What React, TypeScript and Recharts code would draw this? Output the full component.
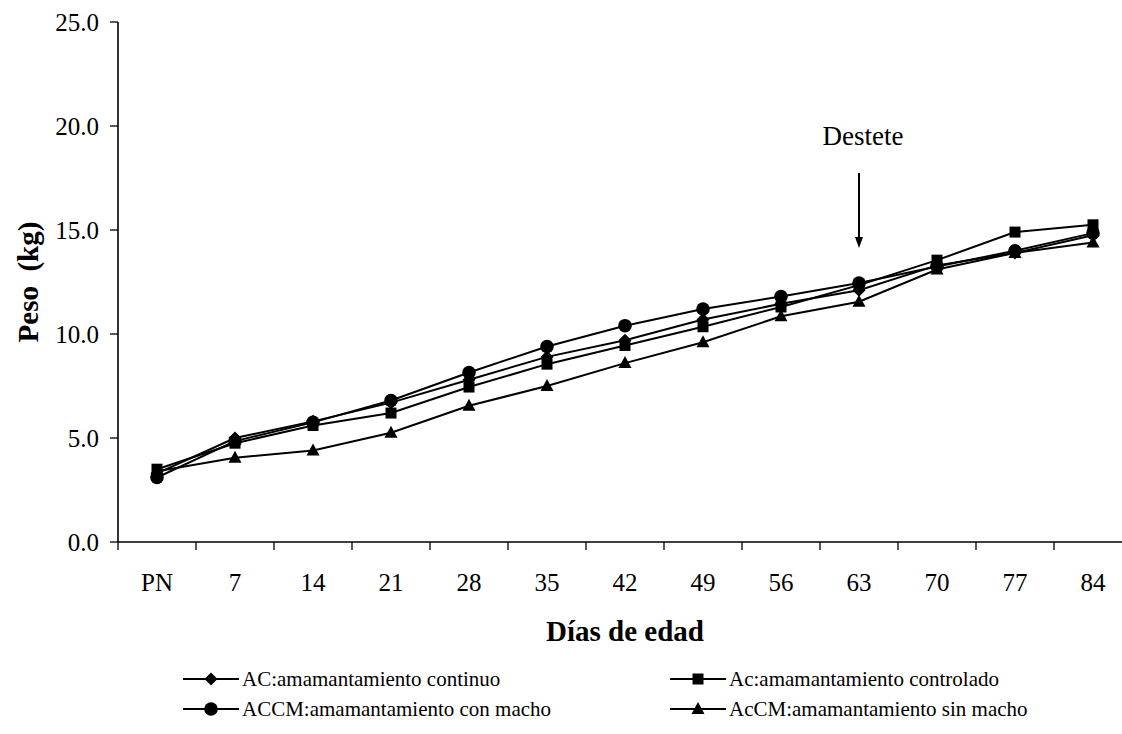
import React from 'react';
import {
  LineChart,
  Line,
  XAxis,
  YAxis,
  Legend,
  ReferenceLine,
  ReferenceDot,
} from 'recharts';

const days = ['PN', '7', '14', '21', '28', '35', '42', '49', '56', '63', '70', '77', '84'];
const serieAC = [3.3, 5.0, 5.8, 6.7, 7.8, 8.9, 9.7, 10.7, 11.45, 12.1, 13.3, 13.9, 14.75];
const serieAc = [3.5, 4.75, 5.6, 6.2, 7.45, 8.55, 9.45, 10.35, 11.3, 12.35, 13.55, 14.9, 15.25];
const serieACCM = [3.1, 4.85, 5.75, 6.8, 8.15, 9.4, 10.4, 11.2, 11.8, 12.45, 13.25, 14.0, 14.85];
const serieAcCM = [3.4, 4.05, 4.4, 5.25, 6.55, 7.5, 8.6, 9.6, 10.85, 11.55, 13.1, 13.9, 14.4];
const yTicks = [0, 5, 10, 15, 20, 25];

const seriesNames = {
  AC: 'AC:amamantamiento continuo',
  Ac: 'Ac:amamantamiento controlado',
  ACCM: 'ACCM:amamantamiento con macho',
  AcCM: 'AcCM:amamantamiento sin macho',
};

const data = days.map((d, i) => ({
  day: d,
  AC: serieAC[i],
  Ac: serieAc[i],
  ACCM: serieACCM[i],
  AcCM: serieAcCM[i],
}));

const FONT = "'Liberation Serif', 'Times New Roman', serif";
const X_TICK_SIZE = 8;
const X_TICK_MARGIN = 23;

type Shape = 'diamond' | 'square' | 'circle' | 'triangle';

const Marker = ({ cx, cy, shape }: { cx: number; cy: number; shape: Shape }) => {
  if (cx == null || cy == null) return null;
  if (shape === 'diamond') {
    return <path d={`M${cx},${cy - 6.5} L${cx + 6.5},${cy} L${cx},${cy + 6.5} L${cx - 6.5},${cy} Z`} fill="#000" />;
  }
  if (shape === 'square') {
    return <rect x={cx - 5.5} y={cy - 5.5} width={11} height={11} fill="#000" />;
  }
  if (shape === 'circle') {
    return <circle cx={cx} cy={cy} r={6.8} fill="#000" />;
  }
  return <path d={`M${cx},${cy - 7} L${cx + 6.5},${cy + 5} L${cx - 6.5},${cy + 5} Z`} fill="#000" />;
};

const makeDot = (shape: Shape) => (props: any) => (
  <Marker key={`${shape}-${props.index}`} cx={props.cx} cy={props.cy} shape={shape} />
);

const legendItems: { key: string; shape: Shape }[] = [
  { key: 'AC', shape: 'diamond' },
  { key: 'Ac', shape: 'square' },
  { key: 'ACCM', shape: 'circle' },
  { key: 'AcCM', shape: 'triangle' },
];

const LegendContent = () => {
  const colLeft = [183, 670];
  const rowTop = [0, 30];
  return (
    <div style={{ position: 'relative', width: 1122, height: 1 }}>
      {legendItems.map((it, i) => {
        const col = i % 2;
        const row = Math.floor(i / 2);
        return (
          <div
            key={it.key}
            style={{
              position: 'absolute',
              left: colLeft[col],
              top: rowTop[row],
              height: 30,
              display: 'flex',
              alignItems: 'center',
              whiteSpace: 'nowrap',
            }}
          >
            <svg width={56} height={20} style={{ display: 'block' }}>
              <line x1={0} y1={10} x2={56} y2={10} stroke="#000" strokeWidth={2} />
              <Marker cx={28} cy={10} shape={it.shape} />
            </svg>
            <span style={{ fontFamily: FONT, fontSize: 21, color: '#000', marginLeft: 3 }}>
              {(seriesNames as any)[it.key]}
            </span>
          </div>
        );
      })}
    </div>
  );
};

const XTick = (props: any) => {
  const { x, y, payload } = props;
  const half = payload && payload.offset ? payload.offset : 0;
  const axisY = y - X_TICK_SIZE - X_TICK_MARGIN;
  return (
    <g>
      <line
        x1={x - half}
        y1={axisY}
        x2={x - half}
        y2={axisY + X_TICK_SIZE}
        stroke="#000"
        strokeWidth={1.3}
      />
      <text
        x={x}
        y={y}
        dy="0.71em"
        textAnchor="middle"
        fontFamily={FONT}
        fontSize={25}
        fill="#000"
      >
        {payload.value}
      </text>
    </g>
  );
};

const YTitle = (props: any) => {
  const vb = props.viewBox || {};
  const x = (vb.x ?? 0) + 38;
  const y = (vb.y ?? 0) + (vb.height ?? 0) / 2;
  return (
    <text
      x={x}
      y={y}
      transform={`rotate(-90, ${x}, ${y})`}
      textAnchor="middle"
      fontFamily={FONT}
      fontWeight="bold"
      fontSize={29}
      fill="#000"
    >
      Peso{'\u00a0\u00a0'}(kg)
    </text>
  );
};

const ArrowHead = (props: any) => {
  const { cx, cy } = props;
  if (cx == null || cy == null) return null;
  return <path d={`M${cx - 4},${cy - 11} L${cx + 4},${cy - 11} L${cx},${cy} Z`} fill="#000" />;
};

export default function App() {
  return (
    <div
      style={{
        position: 'absolute',
        left: 0,
        top: 0,
        width: 1122,
        height: 734,
        overflow: 'hidden',
        background: '#fff',
        fontFamily: FONT,
      }}
    >
      <LineChart
        width={1140}
        height={734}
        data={data}
        margin={{ top: 22, right: 8, left: 0, bottom: 131 }}
      >
        <XAxis
          dataKey="day"
          type="category"
          scale="band"
          interval={0}
          height={60}
          axisLine={{ stroke: '#000', strokeWidth: 1.6 }}
          tickLine={false}
          tickSize={X_TICK_SIZE}
          tickMargin={X_TICK_MARGIN}
          tick={<XTick />}
          label={{
            value: 'Días de edad',
            position: 'bottom',
            offset: 18,
            fontSize: 29,
            fontWeight: 'bold',
            fill: '#000',
            fontFamily: FONT,
          }}
        />
        <YAxis
          width={118}
          domain={[0, 25]}
          ticks={yTicks}
          interval={0}
          tickFormatter={(v: number) => v.toFixed(1)}
          tickSize={8}
          tickMargin={11}
          tick={{ fontSize: 25, fill: '#000', fontFamily: FONT }}
          tickLine={{ stroke: '#000', strokeWidth: 1.3 }}
          axisLine={{ stroke: '#000', strokeWidth: 1.6 }}
          label={<YTitle />}
        />
        <Legend
          layout="vertical"
          align="center"
          verticalAlign="bottom"
          wrapperStyle={{ position: 'absolute', left: 0, top: 664, width: 1122 }}
          content={() => <LegendContent />}
        />
        <ReferenceLine
          segment={[
            { x: '63', y: 17.74 },
            { x: '63', y: 14.6 },
          ]}
          stroke="#000"
          strokeWidth={2}
          label={{
            value: 'Destete',
            position: 'top',
            offset: 28,
            dx: 4,
            fontSize: 27,
            fill: '#000',
            fontFamily: FONT,
          }}
        />
        <ReferenceDot x="63" y={14.13} r={4} shape={<ArrowHead />} isFront />
        <Line
          dataKey="AcCM"
          name={seriesNames.AcCM}
          stroke="#000"
          strokeWidth={2}
          dot={makeDot('triangle')}
          activeDot={false}
          isAnimationActive={false}
        />
        <Line
          dataKey="Ac"
          name={seriesNames.Ac}
          stroke="#000"
          strokeWidth={2}
          dot={makeDot('square')}
          activeDot={false}
          isAnimationActive={false}
        />
        <Line
          dataKey="AC"
          name={seriesNames.AC}
          stroke="#000"
          strokeWidth={2}
          dot={makeDot('diamond')}
          activeDot={false}
          isAnimationActive={false}
        />
        <Line
          dataKey="ACCM"
          name={seriesNames.ACCM}
          stroke="#000"
          strokeWidth={2}
          dot={makeDot('circle')}
          activeDot={false}
          isAnimationActive={false}
        />
      </LineChart>
    </div>
  );
}
